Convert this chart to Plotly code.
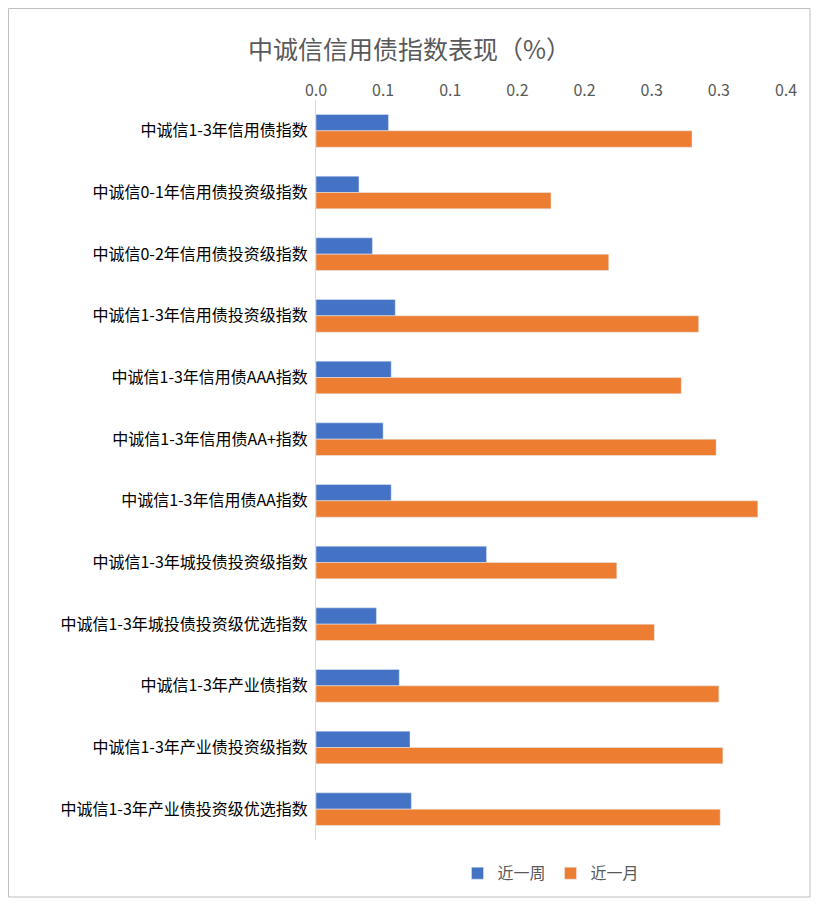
import plotly.graph_objects as go

categories = ["中诚信1-3年信用债指数","中诚信0-1年信用债投资级指数","中诚信0-2年信用债投资级指数",
"中诚信1-3年信用债投资级指数","中诚信1-3年信用债AAA指数","中诚信1-3年信用债AA+指数",
"中诚信1-3年信用债AA指数","中诚信1-3年城投债投资级指数","中诚信1-3年城投债投资级优选指数",
"中诚信1-3年产业债指数","中诚信1-3年产业债投资级指数","中诚信1-3年产业债投资级优选指数"]
week = [0.054,0.032,0.042,0.059,0.056,0.050,0.056,0.127,0.045,0.062,0.070,0.071]
month = [0.280,0.175,0.218,0.285,0.272,0.298,0.329,0.224,0.252,0.300,0.303,0.301]
tick_vals = [0,0.05,0.1,0.15,0.2,0.25,0.3,0.35]
tick_text = ["0.0","0.1","0.1","0.2","0.2","0.3","0.3","0.4"]

W, H, L, T, R, B = 803, 890, 308, 92, 25, 58
PW, PH = W - L - R, H - T - B

fig = go.Figure()
fig.add_bar(y=categories, x=week, name="近一周", orientation="h", marker_color="#4472C4")
fig.add_bar(y=categories, x=month, name="近一月", orientation="h", marker_color="#ED7D31")
fig.update_layout(
    width=W, height=H, plot_bgcolor="white", paper_bgcolor="white",
    font=dict(family="Noto Sans CJK SC", size=16, color="#404040"),
    title=dict(text="中诚信信用债指数表现（%）", x=0.5, xanchor="center", y=0.962, font=dict(size=25, color="#595959")),
    margin=dict(l=L, r=R, t=T, b=B, autoexpand=False),
    barmode="group", bargap=0.47, bargroupgap=0,
    legend=dict(orientation="h", x=0.5, xanchor="center", y=-0.022, yanchor="top", font=dict(size=16, color="#595959")),
    xaxis=dict(side="top", range=[0,0.35], tickvals=tick_vals, ticktext=tick_text, showgrid=False,
               zeroline=False, tickfont=dict(size=16, color="#595959"), fixedrange=True),
    yaxis=dict(autorange="reversed", showline=True, linecolor="#D9D9D9", ticks="", ticklabelstandoff=4,
               tickfont=dict(size=16, color="#000000")),
    shapes=[dict(type="rect", xref="paper", yref="paper",
                 x0=(-L + 0.5) / PW, x1=1 + (R - 1) / PW, y0=(-B + 1) / PH, y1=1 + (T - 0.5) / PH,
                 line=dict(color="#BFBFBF", width=1))],
)
fig.write_html("out.html")
